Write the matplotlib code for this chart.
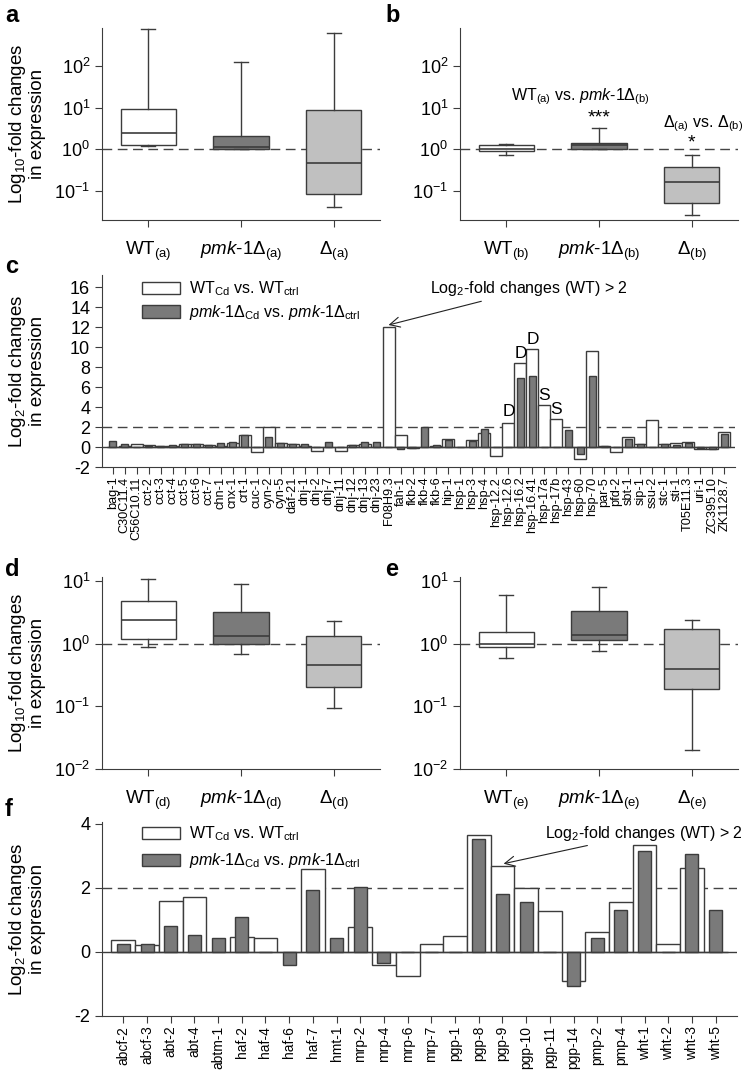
import matplotlib
matplotlib.use('Agg')
import matplotlib.pyplot as plt
from matplotlib.patches import Patch
from matplotlib.ticker import NullLocator, FixedLocator

plt.rcParams['font.family'] = ['Liberation Sans', 'DejaVu Sans']
plt.rcParams['mathtext.fontset'] = 'custom'
plt.rcParams['mathtext.rm'] = 'Liberation Sans'
plt.rcParams['mathtext.it'] = 'Liberation Sans:italic'
plt.rcParams['mathtext.bf'] = 'Liberation Sans:bold'
plt.rcParams['mathtext.default'] = 'regular'
plt.rcParams['axes.unicode_minus'] = False

# box plot summaries (whisker low, q1, median, q3, whisker high) for WT, pmk-1, delta
a_lo = [1.17, 1.0, 0.04]
a_q1 = [1.3, 1.0, 0.083]
a_med = [2.4, 1.15, 0.46]
a_q3 = [9.5, 2.05, 8.7]
a_hi = [780, 125, 620]

b_lo = [0.72, 1.0, 0.026]
b_q1 = [0.9, 1.02, 0.052]
b_med = [1.0, 1.25, 0.16]
b_q3 = [1.25, 1.45, 0.37]
b_hi = [1.35, 3.2, 0.72]

d_lo = [0.88, 0.69, 0.095]
d_q1 = [1.2, 1.0, 0.2]
d_med = [2.4, 1.3, 0.45]
d_q3 = [4.8, 3.2, 1.32]
d_hi = [10.5, 9.0, 2.3]

e_lo = [0.58, 0.76, 0.02]
e_q1 = [0.87, 1.12, 0.19]
e_med = [1.0, 1.36, 0.40]
e_q3 = [1.53, 3.3, 1.72]
e_hi = [6.0, 8.0, 2.4]

# panel c: chaperone genes, log2 fold changes
genes_c = ['bag-1', 'C30C11.4', 'C56C10.11', 'cct-2', 'cct-3', 'cct-4', 'cct-5', 'cct-6',
           'cct-7', 'chn-1', 'cnx-1', 'crt-1', 'cuc-1', 'cyn-2', 'cyn-5', 'daf-21', 'dnj-1',
           'dnj-2', 'dnj-7', 'dnj-11', 'dnj-12', 'dnj-13', 'dnj-23', 'F08H9.3', 'fah-1',
           'fkb-2', 'fkb-4', 'fkb-6', 'hip-1', 'hsp-1', 'hsp-3', 'hsp-4', 'hsp-12.2',
           'hsp-12.6', 'hsp-16.2', 'hsp-16.41', 'hsp-17a', 'hsp-17b', 'hsp-43', 'hsp-60',
           'hsp-70', 'par-5', 'pfd-2', 'sbt-1', 'sip-1', 'ssu-2', 'stc-1', 'sti-1',
           'T05E11.3', 'uri-1', 'ZC395.10', 'ZK1128.7']
wt_c = [0.05, 0.15, 0.3, 0.2, 0.15, 0.15, 0.3, 0.3, 0.25, 0.1, 0.4, 1.2, -0.5, 2.0, 0.45,
        0.3, 0.1, -0.4, 0.05, -0.4, 0.25, 0.35, 0.0, 12.0, 1.25, -0.1, 0.0, 0.15, 0.85, 0.05,
        0.7, 1.4, -0.9, 2.4, 8.4, 9.8, 4.2, 2.8, 0.0, -1.2, 9.6, 0.1, -0.5, 1.05, 0.3, 2.7,
        0.3, 0.4, 0.5, -0.2, -0.2, 1.5]
pmk_c = [0.6, 0.3, 0.05, 0.15, 0.15, 0.2, 0.3, 0.3, 0.2, 0.4, 0.5, 1.2, 0.0, 1.0, 0.4,
         0.3, 0.3, 0.0, 0.5, 0.0, 0.25, 0.5, 0.5, 0.0, -0.2, -0.1, 2.0, 0.2, 0.75, 0.05,
         0.6, 1.8, 0.0, 0.0, 6.9, 7.1, 0.0, 0.0, 1.7, -0.7, 7.1, 0.1, 0.0, 0.8, 0.3, 0.0,
         0.3, 0.2, 0.4, -0.1, -0.2, 1.3]
marks_c = {'hsp-12.6': ('D', 3.5), 'hsp-16.2': ('D', 9.3), 'hsp-16.41': ('D', 10.8),
           'hsp-17a': ('S', 5.2), 'hsp-17b': ('S', 3.8)}

# panel f: transporter genes
genes_f = ['abcf-2', 'abcf-3', 'abt-2', 'abt-4', 'abtm-1', 'haf-2', 'haf-4', 'haf-6', 'haf-7',
           'hmt-1', 'mrp-2', 'mrp-4', 'mrp-6', 'mrp-7', 'pgp-1', 'pgp-8', 'pgp-9', 'pgp-10',
           'pgp-11', 'pgp-14', 'pmp-2', 'pmp-4', 'wht-1', 'wht-2', 'wht-3', 'wht-5']
wt_f = [0.36, 0.2, 1.6, 1.7, 0.0, 0.47, 0.44, 0.0, 2.57, 0.0, 0.78, -0.42, -0.75, 0.26,
        0.51, 3.63, 2.69, 1.98, 1.29, -0.9, 0.63, 1.57, 3.32, 0.25, 2.63, 0.0]
pmk_f = [0.23, 0.25, 0.82, 0.54, 0.43, 1.1, 0.0, -0.4, 1.92, 0.43, 2.03, -0.36, 0.0, 0.0,
         0.0, 3.52, 1.81, 1.57, 0.0, -1.06, 0.44, 1.32, 3.16, 0.0, 3.04, 1.32]

edge = '#3c3c3c'
dark = '#7a7a7a'
light = '#c0c0c0'
dash = (0, (7, 4))

W, H = 745, 1079
fig = plt.figure(figsize=(W / 100, H / 100), dpi=100)


def rect(x0, y0, x1, y1):
    return [x0 / W, 1 - y1 / H, (x1 - x0) / W, (y1 - y0) / H]


def boxpanel(ax, lo, q1, med, q3, hi, tag, ylim, yticks):
    stats = []
    for i in range(3):
        stats.append(dict(whislo=lo[i], q1=q1[i], med=med[i], q3=q3[i], whishi=hi[i], fliers=[]))
    res = ax.bxp(stats, positions=[1, 2, 3], widths=0.6, capwidths=0.15, patch_artist=True,
                 showfliers=False,
                 boxprops=dict(edgecolor=edge, linewidth=1.0),
                 medianprops=dict(color=edge, linewidth=1.2),
                 whiskerprops=dict(color=edge, linewidth=1.0),
                 capprops=dict(color=edge, linewidth=1.0))
    for patch, fc in zip(res['boxes'], ['white', dark, light]):
        patch.set_facecolor(fc)
    ax.set_yscale('log')
    ax.set_ylim(*ylim)
    ax.set_xlim(0.5, 3.5)
    ax.axhline(1, color='#444444', lw=1.0, ls=dash, zorder=0)
    ax.yaxis.set_major_locator(FixedLocator(yticks))
    ax.yaxis.set_minor_locator(NullLocator())
    ax.set_xticks([1, 2, 3])
    ax.set_xticklabels(['WT$_{(%s)}$' % tag,
                        '$\\it{pmk}$-$\\it{1}$$\\Delta_{(%s)}$' % tag,
                        '$\\Delta_{(%s)}$' % tag], fontsize=13.5)
    ax.tick_params(axis='x', length=5, pad=9, color=edge)
    ax.tick_params(axis='y', labelsize=13, length=5, color=edge)
    for s in ['top', 'right']:
        ax.spines[s].set_visible(False)
    for s in ['left', 'bottom']:
        ax.spines[s].set_color(edge)


def barpanel(ax, genes, wt, pmk, ylim, yticks, fs):
    x = list(range(len(genes)))
    ax.bar(x, wt, width=1.0, color='white', edgecolor=edge, linewidth=1.0, zorder=2)
    ax.bar(x, pmk, width=0.55, color=dark, edgecolor=edge, linewidth=1.0, zorder=3)
    ax.axhline(0, color=edge, lw=1.0, zorder=4)
    ax.axhline(2, color='#444444', lw=1.0, ls=dash, zorder=1)
    ax.set_xlim(-0.9, len(genes) - 0.1)
    ax.set_ylim(*ylim)
    ax.set_yticks(yticks)
    ax.set_xticks(x)
    ax.set_xticklabels(genes, rotation=90, fontsize=fs)
    ax.tick_params(axis='x', length=5, pad=2, color=edge)
    ax.tick_params(axis='y', labelsize=13, length=5, color=edge)
    for s in ['top', 'right']:
        ax.spines[s].set_visible(False)
    for s in ['left', 'bottom']:
        ax.spines[s].set_color(edge)


def add_legend(ax, y_anchor, spacing):
    ax.legend(handles=[Patch(facecolor='white', edgecolor=edge),
                       Patch(facecolor=dark, edgecolor=edge)],
              labels=['WT$_{Cd}$ vs. WT$_{ctrl}$',
                      '$\\it{pmk}$-$\\it{1}$$\\Delta_{Cd}$ vs. $\\it{pmk}$-$\\it{1}$$\\Delta_{ctrl}$'],
              loc='upper left', bbox_to_anchor=(0.053, y_anchor), frameon=False, fontsize=11.5,
              handlelength=2.4, handleheight=0.8, handletextpad=0.55, labelspacing=spacing,
              borderaxespad=0)


ylab10 = 'Log$_{10}$-fold changes\nin expression'
ylab2 = 'Log$_2$-fold changes\nin expression'

# a
ax_a = fig.add_axes(rect(102, 28, 380, 220))
boxpanel(ax_a, a_lo, a_q1, a_med, a_q3, a_hi, 'a', (0.02, 820), [0.1, 1, 10, 100])
ax_a.set_ylabel(ylab10, fontsize=13.5, linespacing=1.1)
ax_a.yaxis.set_label_coords(-0.2, 0.5)

# b
ax_b = fig.add_axes(rect(460, 28, 738, 220))
boxpanel(ax_b, b_lo, b_q1, b_med, b_q3, b_hi, 'b', (0.02, 820), [0.1, 1, 10, 100])
ax_b.text(1.8, 18, 'WT$_{(a)}$ vs. $\\it{pmk}$-$\\it{1}$$\\Delta_{(b)}$', fontsize=11.5,
          ha='center', va='center')
ax_b.text(2, 5.6, '***', fontsize=14, ha='center', va='center')
ax_b.text(3.12, 4.2, '$\\Delta_{(a)}$ vs. $\\Delta_{(b)}$', fontsize=11.5, ha='center', va='center')
ax_b.text(3, 1.4, '*', fontsize=14, ha='center', va='center')

# c
ax_c = fig.add_axes(rect(102, 275, 735, 467))
barpanel(ax_c, genes_c, wt_c, pmk_c, (-2, 17.2), list(range(-2, 17, 2)), 9.2)
ax_c.set_ylabel(ylab2, fontsize=13.5, linespacing=1.1)
ax_c.yaxis.set_label_coords(-0.088, 0.5)
for g, (lab, yv) in marks_c.items():
    ax_c.text(genes_c.index(g), yv, lab, fontsize=12.5, ha='center', va='center')
ax_c.annotate('Log$_2$-fold changes (WT) > 2', xy=(23.0, 12.2), xytext=(26.5, 15.8),
              fontsize=11.5, ha='left', va='center',
              arrowprops=dict(arrowstyle='->', color='#222222', lw=0.8, shrinkA=0, shrinkB=0,
                              mutation_scale=18))
add_legend(ax_c, 1.01, 0.3)

# d
ax_d = fig.add_axes(rect(102, 577, 380, 769))
boxpanel(ax_d, d_lo, d_q1, d_med, d_q3, d_hi, 'd', (0.01, 11.5), [0.01, 0.1, 1, 10])
ax_d.set_ylabel(ylab10, fontsize=13.5, linespacing=1.1)
ax_d.yaxis.set_label_coords(-0.2, 0.5)

# e
ax_e = fig.add_axes(rect(460, 577, 738, 769))
boxpanel(ax_e, e_lo, e_q1, e_med, e_q3, e_hi, 'e', (0.01, 11.5), [0.01, 0.1, 1, 10])

# f
ax_f = fig.add_axes(rect(102, 822, 737, 1016))
barpanel(ax_f, genes_f, wt_f, pmk_f, (-2, 4.05), [-2, 0, 2, 4], 10)
ax_f.set_ylabel(ylab2, fontsize=13.5, linespacing=1.1)
ax_f.yaxis.set_label_coords(-0.088, 0.5)
ax_f.annotate('Log$_2$-fold changes (WT) > 2', xy=(16.05, 2.75), xytext=(17.8, 3.7),
              fontsize=11.5, ha='left', va='center',
              arrowprops=dict(arrowstyle='->', color='#222222', lw=0.8, shrinkA=0, shrinkB=0,
                              mutation_scale=18))
add_legend(ax_f, 1.02, 0.5)

for lab, x0, y0 in [('a', 5, 16), ('b', 385, 16), ('c', 5, 267), ('d', 5, 570),
                    ('e', 385, 570), ('f', 5, 810)]:
    fig.text(x0 / W, 1 - y0 / H, lab, fontsize=17, fontweight='bold', ha='left', va='center')

fig.savefig('out.png', dpi=100)
